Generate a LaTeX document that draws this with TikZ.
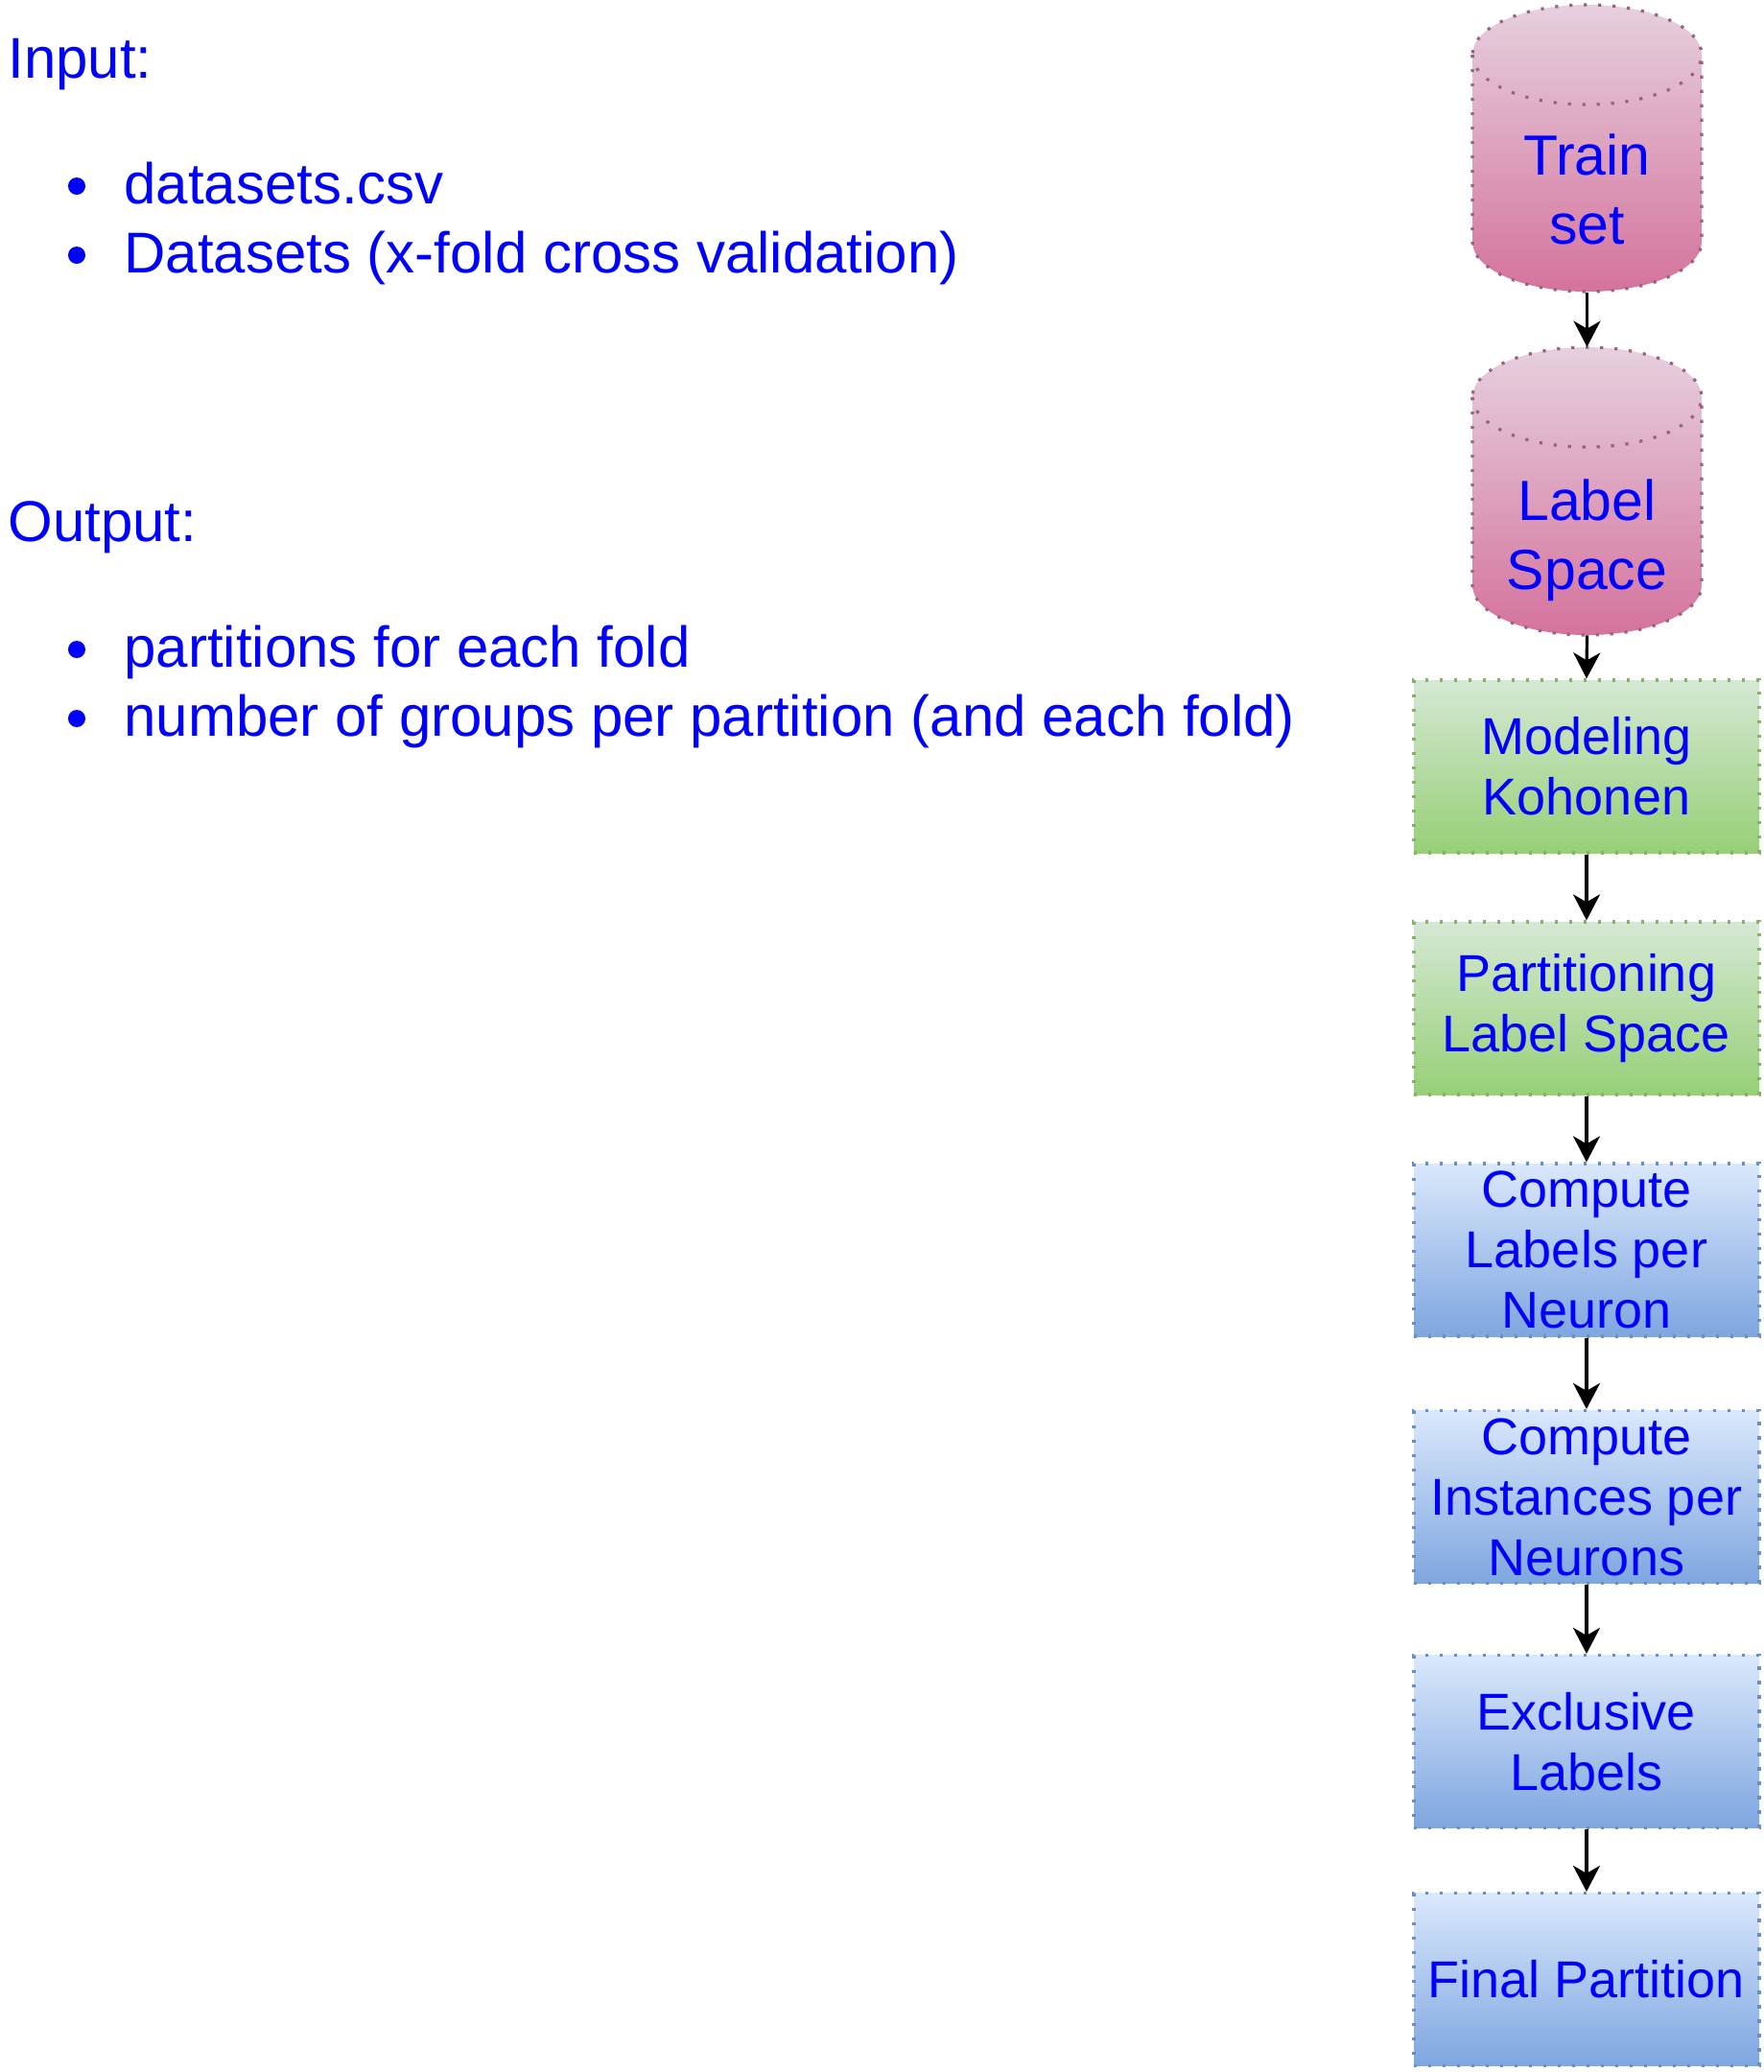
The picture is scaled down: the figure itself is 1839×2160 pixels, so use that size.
\documentclass[tikz,border=0pt]{standalone}
\usepackage{fontspec}
\setmainfont{Liberation Sans}
\usetikzlibrary{arrows.meta}
\definecolor{txtblue}{HTML}{0000FF}
\definecolor{pktop}{HTML}{E6D0DE}
\definecolor{pkbot}{HTML}{D5739D}
\definecolor{pkstroke}{HTML}{996185}
\definecolor{grntop}{HTML}{D5E8D4}
\definecolor{grnbot}{HTML}{97D077}
\definecolor{grnstroke}{HTML}{82B366}
\definecolor{blutop}{HTML}{DAE8FC}
\definecolor{blubot}{HTML}{7EA6E0}
\definecolor{blustroke}{HTML}{6C8EBF}
\begin{document}
\begin{tikzpicture}[x=0.5pt,y=-0.5pt,
  dotline/.style={line width=1.6pt, dash pattern=on 1.6pt off 5.9pt},
  procbox/.style={rectangle, minimum width=180pt, minimum height=90pt, inner sep=0pt,
    align=center, text=txtblue, font=\fontsize{27pt}{31.5pt}\selectfont, dotline},
  greenbox/.style={procbox, draw=grnstroke, top color=grntop, bottom color=grnbot},
  bluebox/.style={procbox, draw=blustroke, top color=blutop, bottom color=blubot},
  flow/.style={line width=1.6pt, -{Stealth[length=13.5pt,width=14pt,inset=4pt]}},
  cyltext/.style={text=txtblue, align=center, inner sep=0pt, font=\fontsize{29.5pt}{36pt}\selectfont},
  cylbound/.style={rectangle, minimum width=119.5pt, minimum height=150pt, inner sep=0pt},
  listtext/.style={anchor=base west, inner sep=0pt, text=txtblue, font=\fontsize{30pt}{36pt}\selectfont},
  cylfill/.style={top color=pktop, bottom color=pkbot},
  cylline/.style={draw=pkstroke, dotline}
]
\useasboundingbox (0,0) rectangle (1839,2160);

% ---- left text ----
\node[listtext] (inputhd) at (8,81) {Input:};
\node[listtext] (in1) at (129,212) {datasets.csv};
\node[listtext] (in2) at (129,284) {Datasets (x-fold cross validation)};
\fill[txtblue] (80,194) circle[radius=9];
\fill[txtblue] (80,266) circle[radius=9];

\node[listtext] (outputhd) at (8,564) {Output:};
\node[listtext] (out1) at (129,695) {partitions for each fold};
\node[listtext] (out2) at (129,767) {number of groups per partition (and each fold)};
\fill[txtblue] (80,677) circle[radius=9];
\fill[txtblue] (80,749) circle[radius=9];

% ---- cylinders ----
\node[cylbound] (train) at (1654.5,155) {};
\path[cylfill] (1535,57) -- (1535,252) arc[start angle=180, end angle=0, x radius=119.5, y radius=52]
  -- (1774,57) arc[start angle=0, end angle=-180, x radius=119.5, y radius=52] -- cycle;
\draw[cylline] (1535,57) -- (1535,252) arc[start angle=180, end angle=0, x radius=119.5, y radius=52]
  -- (1774,57) arc[start angle=0, end angle=-180, x radius=119.5, y radius=52] -- cycle;
\draw[cylline] (1535,57) arc[start angle=180, end angle=0, x radius=119.5, y radius=52];
\node[cyltext] (trainlbl) at (1654.5,197.5) {Train\\set};

\node[cylbound] (lspace) at (1654.5,512) {};
\path[cylfill] (1535,414) -- (1535,610) arc[start angle=180, end angle=0, x radius=119.5, y radius=52]
  -- (1774,414) arc[start angle=0, end angle=-180, x radius=119.5, y radius=52] -- cycle;
\draw[cylline] (1535,414) -- (1535,610) arc[start angle=180, end angle=0, x radius=119.5, y radius=52]
  -- (1774,414) arc[start angle=0, end angle=-180, x radius=119.5, y radius=52] -- cycle;
\draw[cylline] (1535,414) arc[start angle=180, end angle=0, x radius=119.5, y radius=52];
\node[cyltext] (lspacelbl) at (1654.5,563) {Label\\Space};

% ---- process boxes ----
\node[greenbox] (model) at (1654,799) {Modeling\\Kohonen};
\node[greenbox] (part) at (1654,1051) {Partitioning\\Label Space};
\node[bluebox] (clabels) at (1654,1303) {Compute\\Labels per\\Neuron};
\node[bluebox] (cinst) at (1654,1560.5) {Compute\\Instances per\\Neurons};
\node[bluebox] (excl) at (1654,1815.5) {Exclusive\\Labels};
\node[bluebox] (final) at (1654,2063.5) {Final Partition};

% ---- connectors ----
\draw[flow] (train.south) -- (lspace.north);
\draw[flow] (lspace.south) -- (model.north);
\draw[flow] (model.south) -- (part.north);
\draw[flow] (part.south) -- (clabels.north);
\draw[flow] (clabels.south) -- (cinst.north);
\draw[flow] (cinst.south) -- (excl.north);
\draw[flow] (excl.south) -- (final.north);
\end{tikzpicture}
\end{document}
